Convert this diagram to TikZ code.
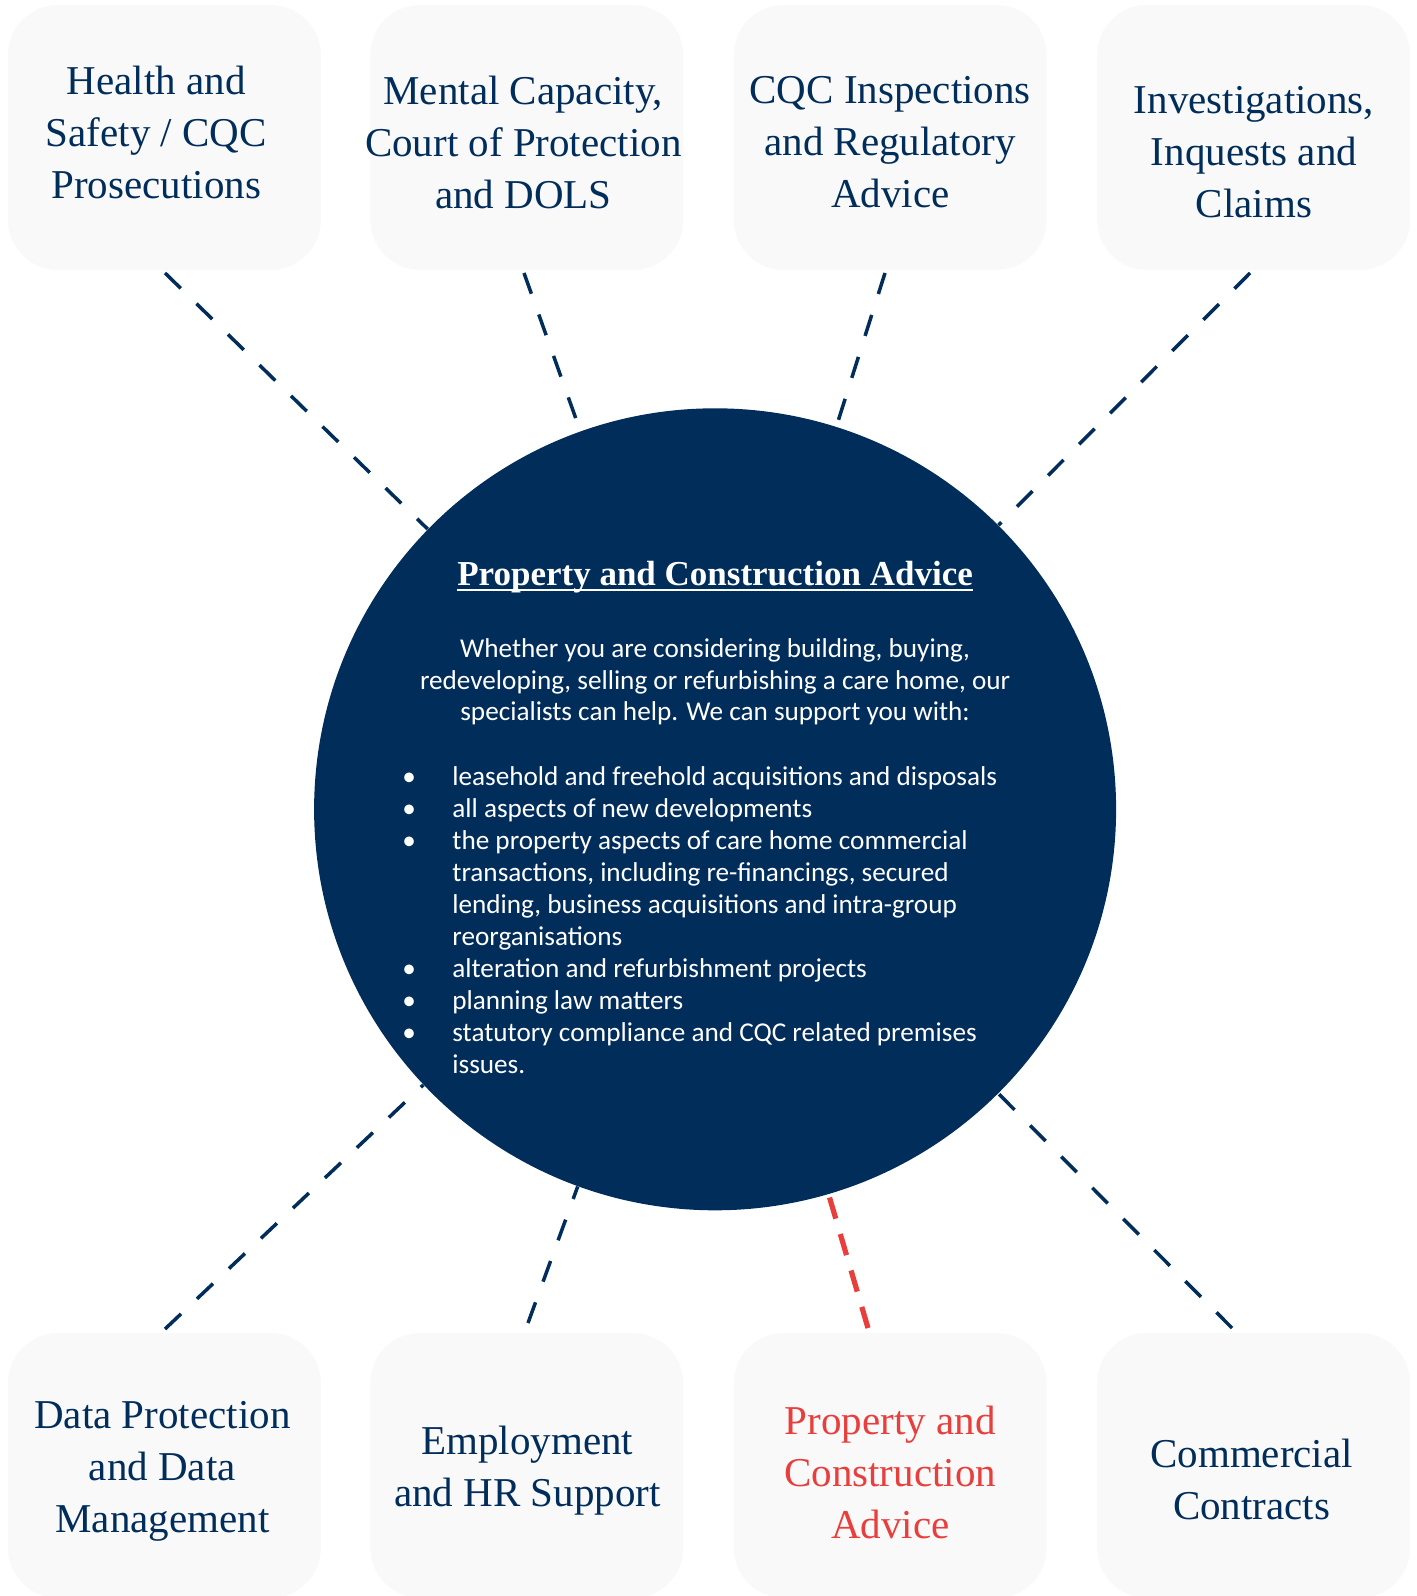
\documentclass[tikz,border=0pt]{standalone}
\usepackage{fontspec}
\setmainfont{Liberation Serif}
\newfontfamily\bodyfont{Carlito}
\definecolor{navy}{RGB}{1,45,91}
\definecolor{accent}{RGB}{232,62,60}
\definecolor{tilegrey}{RGB}{249,249,249}

\begin{document}
\begin{tikzpicture}[x=0.5pt,y=-0.5pt,
		tile/.style={rounded corners=25pt,fill=tilegrey,minimum width=156.5pt,minimum height=132.5pt,inner sep=0pt},
		tiletext/.style={align=center,text=navy,font=\fontsize{20.5pt}{26pt}\selectfont},
		link/.style={draw=navy,line width=1.75pt,dash pattern=on 11pt off 11pt},
		redlink/.style={draw=accent,line width=2.6pt,dash pattern=on 11pt off 8pt}]
				\useasboundingbox (0,0) rectangle (1417,1596);
				% tiles
				\node[tile] (hs) at (164.4,137.5) {};
				\node[tile] (mc) at (526.8,137.5) {};
				\node[tile] (cqc) at (890.2,137.5) {};
				\node[tile] (inq) at (1253.6,137.5) {};
				\node[tile] (dp) at (164.4,1465.5) {};
				\node[tile] (emp) at (526.8,1465.5) {};
				\node[tile] (pca) at (890.2,1465.5) {};
				\node[tile] (cc) at (1253.6,1465.5) {};
				\node[tiletext] (hstext) at (156.3,132.3) {Health and\\Safety / CQC\\Prosecutions};
				\node[tiletext] (mctext) at (523.3,142) {Mental Capacity,\\Court of Protection\\and DOLS};
				\node[tiletext] (cqctext) at (890.2,142) {CQC Inspections\\and Regulatory\\Advice};
				\node[tiletext] (inqtext) at (1254,152.2) {Investigations,\\Inquests and\\Claims};
				\node[tiletext] (dptext) at (162.4,1471) {Data Protection\\and Data\\Management};
				\node[tiletext] (emptext) at (527.3,1470.4) {Employment\\and HR Support};
				\node[tiletext,text=accent] (pcatext) at (890.2,1472) {Property and\\Construction\\Advice};
				\node[tiletext] (cctext) at (1251.6,1479.6) {Commercial\\Contracts};
				% hub
				\node[circle,fill=navy,minimum size=401pt,inner sep=0pt] (hub) at (715.1,809.3) {};
				\coordinate (hsx) at (165,273);
				\coordinate (mcx) at (524,273);
				\coordinate (cqcx) at (885,273);
				\coordinate (inqx) at (1250,273);
				\coordinate (dpx) at (165,1329);
				\coordinate (empx) at (528,1323);
				\coordinate (pcax) at (868,1328);
				\coordinate (ccx) at (1232,1328);
				\path (hsx) edge[link] (hub);
				\path (mcx) edge[link] (hub);
				\path (cqcx) edge[link] (hub);
				\path (inqx) edge[link] (hub);
				\path (dpx) edge[link] (hub);
				\path (empx) edge[link] (hub);
				\path (pcax) edge[redlink] (hub);
				\path (ccx) edge[link] (hub);
				% hub text
				\node[text=white,inner sep=0pt,anchor=base,font=\bfseries\fontsize{17.5pt}{20pt}\selectfont] (title) at (715.1,585) {Property and Construction Advice};
				\draw[white,line width=1pt] ([yshift=-2.4pt]title.base west) -- ([yshift=-2.4pt]title.base east);
				\node[text=white,align=center,inner sep=0pt,font=\bodyfont\fontsize{13.6pt}{15.8pt}\selectfont] (intro) at (715.1,682) {Whether you are considering building, buying,\\redeveloping, selling or refurbishing a care home, our\\specialists can help. We can support you with:};
				\node[text=white,align=left,inner sep=0pt,anchor=north west,font=\bodyfont\fontsize{13.6pt}{16pt}\selectfont] (items) at (452,766) {%
					\llap{\makebox[25pt][l]{\textbullet}}leasehold and freehold acquisitions and disposals\\
					\llap{\makebox[25pt][l]{\textbullet}}all aspects of new developments\\
					\llap{\makebox[25pt][l]{\textbullet}}the property aspects of care home commercial\\
					transactions, including re-financings, secured\\
					lending, business acquisitions and intra-group\\
					reorganisations\\
					\llap{\makebox[25pt][l]{\textbullet}}alteration and refurbishment projects\\
					\llap{\makebox[25pt][l]{\textbullet}}planning law matters\\
					\llap{\makebox[25pt][l]{\textbullet}}statutory compliance and CQC related premises\\
					issues.};
			\end{tikzpicture}
\end{document}
